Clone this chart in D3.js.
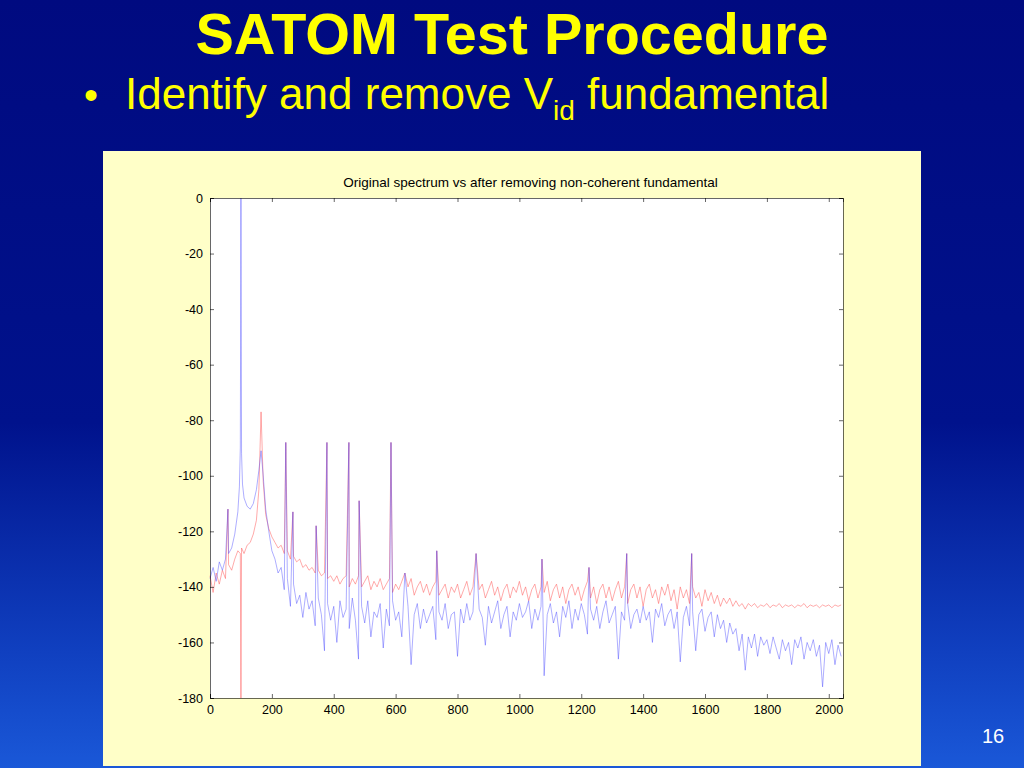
<!DOCTYPE html>
<html><head><meta charset="utf-8">
<script src="https://cdn.jsdelivr.net/npm/d3@7"></script>
<style>
html,body{margin:0;padding:0;width:1024px;height:768px;overflow:hidden;}
body{background:linear-gradient(to bottom,#000a80 0%,#00128c 55%,#1040c0 85%,#1a58d8 100%);font-family:"Liberation Sans",Arial,sans-serif;}
</style></head><body>
<svg id="c" width="1024" height="768"></svg>
<script>
const chartTitle = "Original spectrum vs after removing non-coherent fundamental";
const xTicks = [0,200,400,600,800,1000,1200,1400,1600,1800,2000];
const yTicks = [0,-20,-40,-60,-80,-100,-120,-140,-160,-180];
const blueSeries = [[0,-137],[10,-133],[20,-138],[30,-131],[40,-134],[50,-130],[60,-128],[70,-126],[80,-121],[90,-113],[95,-104],[98,-90],[100,0],[102,-92],[105,-103],[110,-108],[120,-111],[130,-112],[140,-110],[150,-105],[158,-98],[165,-91],[172,-100],[180,-112],[190,-120],[200,-127],[210,-130],[220,-135],[230,-133],[240,-141],[250,-137],[260,-147],[270,-139],[280,-146],[290,-143],[300,-151],[310,-142],[320,-148],[330,-145],[340,-154],[350,-144],[360,-150],[370,-163],[380,-146],[390,-152],[400,-147],[410,-160],[420,-145],[430,-151],[440,-148],[450,-155],[460,-144],[470,-152],[480,-166],[490,-147],[500,-153],[510,-145],[520,-158],[530,-149],[540,-151],[550,-146],[560,-162],[570,-148],[580,-154],[590,-145],[600,-152],[610,-149],[620,-158],[630,-150],[640,-147],[650,-168],[660,-150],[670,-146],[680,-155],[690,-148],[700,-153],[710,-150],[720,-147],[730,-159],[740,-149],[750,-152],[760,-146],[770,-155],[780,-150],[790,-149],[800,-165],[810,-148],[820,-153],[830,-146],[840,-152],[850,-149],[860,-157],[870,-148],[880,-151],[890,-161],[900,-147],[910,-153],[920,-149],[930,-145],[940,-155],[950,-150],[960,-147],[970,-158],[980,-149],[990,-152],[1000,-146],[1010,-151],[1020,-149],[1030,-145],[1040,-155],[1050,-148],[1060,-152],[1070,-147],[1080,-172],[1090,-150],[1100,-146],[1110,-153],[1120,-149],[1130,-158],[1140,-147],[1150,-151],[1160,-145],[1170,-155],[1180,-148],[1190,-152],[1200,-146],[1210,-150],[1220,-157],[1230,-148],[1240,-152],[1250,-147],[1260,-155],[1270,-149],[1280,-145],[1290,-153],[1300,-150],[1310,-147],[1320,-166],[1330,-149],[1340,-152],[1350,-146],[1360,-155],[1370,-150],[1380,-148],[1390,-153],[1400,-147],[1410,-152],[1420,-149],[1430,-160],[1440,-148],[1450,-151],[1460,-146],[1470,-154],[1480,-150],[1490,-148],[1500,-155],[1510,-149],[1520,-167],[1530,-151],[1540,-147],[1550,-154],[1560,-149],[1570,-163],[1580,-150],[1590,-148],[1600,-156],[1610,-151],[1620,-149],[1630,-158],[1640,-150],[1650,-155],[1660,-152],[1670,-160],[1680,-153],[1690,-157],[1700,-155],[1710,-163],[1720,-157],[1730,-170],[1740,-158],[1750,-162],[1760,-157],[1770,-165],[1780,-158],[1790,-161],[1800,-159],[1810,-164],[1820,-158],[1830,-162],[1840,-166],[1850,-159],[1860,-163],[1870,-160],[1880,-168],[1890,-159],[1900,-162],[1910,-158],[1920,-166],[1930,-160],[1940,-163],[1950,-159],[1960,-165],[1970,-161],[1980,-176],[1990,-160],[2000,-164],[2010,-159],[2020,-168],[2030,-161],[2040,-165]];
const redSeries = [[0,-136],[10,-142],[20,-135],[30,-139],[40,-134],[50,-137],[60,-132],[70,-134],[80,-130],[90,-127],[98,-128],[100,-180],[102,-126],[110,-128],[120,-125],[130,-124],[140,-121],[150,-116],[158,-105],[165,-77],[172,-102],[180,-114],[190,-119],[200,-122],[210,-124],[220,-126],[230,-125],[240,-128],[250,-127],[260,-130],[270,-129],[280,-131],[290,-130],[300,-133],[310,-132],[320,-134],[330,-133],[340,-135],[350,-134],[360,-136],[370,-135],[380,-137],[390,-136],[400,-138],[410,-136],[420,-139],[430,-137],[440,-136],[450,-140],[460,-137],[470,-139],[480,-136],[490,-140],[500,-138],[510,-136],[520,-141],[530,-138],[540,-140],[550,-137],[560,-141],[570,-139],[580,-137],[590,-142],[600,-139],[610,-141],[620,-138],[630,-142],[640,-140],[650,-137],[660,-143],[670,-140],[680,-138],[690,-142],[700,-139],[710,-143],[720,-140],[730,-138],[740,-143],[750,-141],[760,-139],[770,-144],[780,-140],[790,-142],[800,-139],[810,-144],[820,-141],[830,-138],[840,-143],[850,-140],[860,-145],[870,-141],[880,-139],[890,-144],[900,-141],[910,-138],[920,-143],[930,-140],[940,-145],[950,-141],[960,-139],[970,-144],[980,-140],[990,-142],[1000,-138],[1010,-143],[1020,-140],[1030,-145],[1040,-141],[1050,-139],[1060,-144],[1070,-140],[1080,-142],[1090,-138],[1100,-145],[1110,-141],[1120,-139],[1130,-144],[1140,-140],[1150,-146],[1160,-141],[1170,-139],[1180,-143],[1190,-140],[1200,-145],[1210,-141],[1220,-138],[1230,-144],[1240,-140],[1250,-146],[1260,-141],[1270,-139],[1280,-144],[1290,-140],[1300,-145],[1310,-141],[1320,-138],[1330,-144],[1340,-140],[1350,-146],[1360,-141],[1370,-139],[1380,-144],[1390,-140],[1400,-147],[1410,-141],[1420,-139],[1430,-144],[1440,-141],[1450,-146],[1460,-140],[1470,-143],[1480,-139],[1490,-145],[1500,-141],[1510,-148],[1520,-140],[1530,-144],[1540,-141],[1550,-146],[1560,-140],[1570,-144],[1580,-142],[1590,-147],[1600,-141],[1610,-145],[1620,-142],[1630,-146],[1640,-143],[1650,-147],[1660,-144],[1670,-146],[1680,-144],[1690,-147],[1700,-145],[1710,-147],[1720,-146],[1730,-148],[1740,-146],[1750,-147],[1760,-146],[1770,-147.5],[1780,-146.5],[1790,-147],[1800,-146],[1810,-147.5],[1820,-146.5],[1830,-147],[1840,-146],[1850,-147.5],[1860,-146.5],[1870,-147],[1880,-146.5],[1890,-147.5],[1900,-146.5],[1910,-147],[1920,-146],[1930,-147.5],[1940,-146.5],[1950,-147],[1960,-146.5],[1970,-147.5],[1980,-146.5],[1990,-147],[2000,-146.5],[2010,-147.5],[2020,-146.5],[2030,-147],[2040,-146.5]];
const harmonicSpikes = [[58,-112],[245,-88],[268,-113],[343,-118],[378,-88],[449,-88],[482,-109],[585,-88],[630,-135],[733,-127],[860,-128],[1073,-130],[1225,-133],[1347,-128],[1557,-128]];

const svg = d3.select("#c");
svg.append("text").attr("x",512).attr("y",54).attr("text-anchor","middle")
  .attr("fill","#ffff00").attr("font-size",58).attr("font-weight","bold")
  .attr("font-family","Liberation Sans, Arial, sans-serif").attr("textLength",633).attr("lengthAdjust","spacingAndGlyphs").text("SATOM Test Procedure");
svg.append("text").attr("x",84).attr("y",109).attr("fill","#ffff00").attr("font-size",40).text("•");
const sub = svg.append("text").attr("x",125).attr("y",109).attr("fill","#ffff00").attr("font-size",44);
sub.append("tspan").text("Identify and remove V");
sub.append("tspan").attr("font-size",28).attr("dy",11).text("id");
sub.append("tspan").attr("dy",-11).text(" fundamental");
svg.append("text").attr("x",993).attr("y",743).attr("text-anchor","middle").attr("fill","#fff").attr("font-size",20).text("16");

svg.append("rect").attr("x",103).attr("y",151).attr("width",818).attr("height",615).attr("fill","#ffffc8");
const L=210,T=198,R=843,B=698;
svg.append("rect").attr("x",L).attr("y",T).attr("width",R-L).attr("height",B-T).attr("fill","#fff");
const x = d3.scaleLinear().domain([0,2046]).range([L,R]);
const y = d3.scaleLinear().domain([-180,0]).range([B,T]);
svg.append("text").attr("x",(L+R)/2+4).attr("y",187).attr("text-anchor","middle").attr("font-size",13.5).attr("fill","#000").text(chartTitle);

function merge(series){
  const m = new Map(series.map(d=>[d[0],d[1]]));
  harmonicSpikes.forEach(s=>m.set(s[0],s[1]));
  return Array.from(m.entries()).sort((a,b)=>a[0]-b[0]);
}
const line = d3.line().x(d=>x(d[0])).y(d=>y(d[1]));
const g = svg.append("g");
g.append("path").datum(merge(redSeries)).attr("d",line).attr("fill","none").attr("stroke","#ff5a5a").attr("stroke-opacity",0.65).attr("stroke-width",0.8);
g.append("path").datum(merge(blueSeries)).attr("d",line).attr("fill","none").attr("stroke","#4646ff").attr("stroke-opacity",0.55).attr("stroke-width",0.8);

const ax = g=>g.selectAll(".domain").attr("stroke","#000").attr("stroke-width",0.6);
svg.append("g").attr("transform",`translate(0,${B})`).call(d3.axisBottom(x).tickValues(xTicks).tickSize(-4).tickPadding(7).tickFormat(d3.format("d")))
  .call(ax).call(g=>g.selectAll("text").attr("font-size",12.5).attr("font-family","Liberation Sans, Arial"));
svg.append("g").attr("transform",`translate(0,${T})`).call(d3.axisTop(x).tickValues(xTicks).tickSize(-4).tickFormat(""))
  .call(ax);
svg.append("g").attr("transform",`translate(${L},0)`).call(d3.axisLeft(y).tickValues(yTicks).tickSize(-4).tickPadding(7).tickFormat(d=>d===0?"0":"-"+Math.abs(d)))
  .call(ax).call(g=>g.selectAll("text").attr("font-size",12.5).attr("font-family","Liberation Sans, Arial"));
svg.append("g").attr("transform",`translate(${R},0)`).call(d3.axisRight(y).tickValues(yTicks).tickSize(-4).tickFormat(""))
  .call(ax);
svg.selectAll(".tick line").attr("stroke","#000").attr("stroke-width",0.6);
</script></body></html>
